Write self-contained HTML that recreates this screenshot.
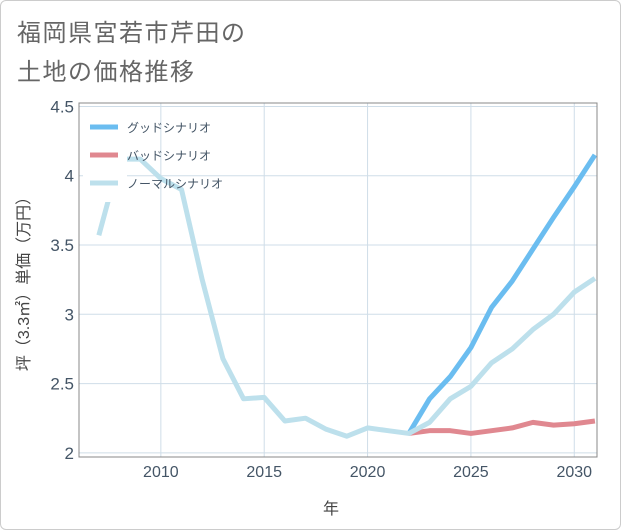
<!DOCTYPE html>
<html><head><meta charset="utf-8">
<style>
html,body{margin:0;padding:0;background:#fff;}
#card{position:absolute;left:0;top:0;width:619px;height:528px;border:1px solid #ccc;border-radius:6px;background:#fff;overflow:hidden;}
.t{font-family:"Liberation Sans","Noto Sans CJK JP",sans-serif;}
</style></head>
<body>
<div id="card">
<svg width="621" height="530" style="position:absolute;left:-1px;top:-1px">
<text class="t" x="17" y="41" font-size="24" fill="#666" letter-spacing="1.5">福岡県宮若市芹田の</text>
<text class="t" x="17" y="80" font-size="24" fill="#666" letter-spacing="1.5">土地の価格推移</text>
<g id="grid"></g>
<g id="series"></g>
<rect x="79" y="103" width="518" height="354" fill="none" stroke="#888" stroke-width="1"/>
<g id="ticks"></g>
<text class="t" x="331" y="514" font-size="16" fill="#444" text-anchor="middle">年</text>
<text class="t" transform="translate(29,280) rotate(-90)" font-size="16" fill="#444" text-anchor="middle">坪（3.3㎡）単価（万円）</text>
<g id="legend"></g>
</svg>
</div>
<script>
const years=[2007,2008,2009,2010,2011,2012,2013,2014,2015,2016,2017,2018,2019,2020,2021,2022,2023,2024,2025,2026,2027,2028,2029,2030,2031];
const normal=[3.57,4.12,4.12,3.98,3.9,3.25,2.68,2.39,2.4,2.23,2.25,2.17,2.12,2.18,2.16,2.14,2.22,2.39,2.48,2.65,2.75,2.89,3.0,3.16,3.26];
const fYears=[2022,2023,2024,2025,2026,2027,2028,2029,2030,2031];
const good=[2.14,2.39,2.55,2.76,3.05,3.24,3.47,3.70,3.92,4.15];
const bad=[2.14,2.16,2.16,2.14,2.16,2.18,2.22,2.20,2.21,2.23];
const xTicks=[2010,2015,2020,2025,2030];
const yTicks=[2,2.5,3,3.5,4,4.5];
const yLabels=["2","2.5","3","3.5","4","4.5"];
const names=["グッドシナリオ","バッドシナリオ","ノーマルシナリオ"];
const colors=["#6bbdf0","#e08890","#bde0ec"];

const X0=79,X1=597,Y0=457,Y1=103;
const xmin=2006.04,xmax=2031.1,ymin=1.97,ymax=4.525;
const sx=v=>X0+(v-xmin)/(xmax-xmin)*(X1-X0);
const sy=v=>Y0-(v-ymin)/(ymax-ymin)*(Y0-Y1);
const NS="http://www.w3.org/2000/svg";
function mk(tag,attrs,parent){const e=document.createElementNS(NS,tag);for(const k in attrs)e.setAttribute(k,attrs[k]);parent.appendChild(e);return e;}
const grid=document.getElementById('grid'),ticks=document.getElementById('ticks');
xTicks.forEach(v=>{
 const l=mk('line',{x1:sx(v),x2:sx(v),y1:Y1,y2:Y0,stroke:'#cfdde8','stroke-width':1},grid);
 
 
 const t=mk('text',{x:sx(v),y:477,'font-size':16,fill:'#445566','text-anchor':'middle',class:'t'},ticks);
 t.textContent=v;
 
 
});
yTicks.forEach((v,i)=>{
 const l=mk('line',{x1:X0,x2:X1,y1:sy(v),y2:sy(v),stroke:'#cfdde8','stroke-width':1},grid);
 
 
 const t=mk('text',{x:74,y:sy(v)+6,'font-size':17,fill:'#445566','text-anchor':'end',class:'t'},ticks);
 t.textContent=yLabels[i];
 
 
});
const ser=document.getElementById('series');
const cp=mk('clipPath',{id:'cp'},ser);
mk('rect',{x:X0,y:Y1,width:X1-X0,height:Y0-Y1},cp);
function line(xs,ys,c,name){
 const p=mk('polyline',{points:xs.map((x,i)=>sx(x)+','+sy(ys[i])).join(' '),fill:'none',stroke:c,'stroke-width':5,'stroke-linejoin':'round','clip-path':'url(#cp)'},ser);
 
 
}
line(fYears,bad,colors[1],'bad-scenario-line');
line(fYears,good,colors[0],'good-scenario-line');
line(years,normal,colors[2],'normal-scenario-line');
const lg=document.getElementById('legend');
const bg=mk('rect',{x:83,y:112,width:44,height:90,fill:'#fff'},lg);


names.forEach((n,i)=>{
 const y=127+i*28;
 const s=mk('line',{x1:90,x2:118,y1:y,y2:y,stroke:colors[i],'stroke-width':5},lg);
 
 
 const t=mk('text',{x:127,y:y+5,'font-size':12,fill:'#445566',class:'t'},lg);
 t.textContent=n;
 
 
});
</script>
</body></html>
